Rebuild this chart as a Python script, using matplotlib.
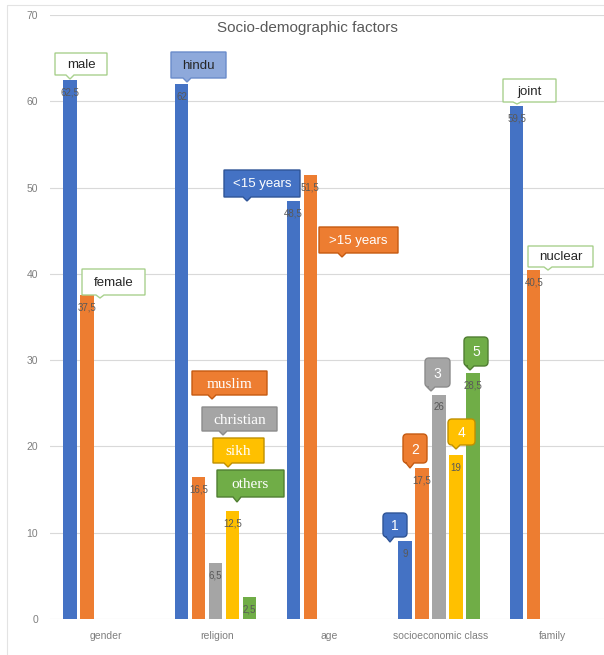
import matplotlib
matplotlib.use('Agg')
import matplotlib.pyplot as plt
import numpy as np
from matplotlib.path import Path
from matplotlib.patches import PathPatch, Rectangle
from matplotlib.transforms import Affine2D

plt.rcParams['font.family'] = ['Liberation Sans', 'DejaVu Sans']

categories = ['gender', 'religion', 'age', 'socioeconomic class', 'family']
s1 = [62.5, 62, 48.5, 9, 59.5]
s2 = [37.5, 16.5, 51.5, 17.5, 40.5]
s3 = [np.nan, 6.5, np.nan, 26, np.nan]
s4 = [np.nan, 12.5, np.nan, 19, np.nan]
s5 = [np.nan, 2.5, np.nan, 28.5, np.nan]
series = [s1, s2, s3, s4, s5]

gender_names = ['male', 'female']
religion_names = ['hindu', 'muslim', 'christian', 'sikh', 'others']
age_names = ['<15 years', '>15 years']
class_names = ['1', '2', '3', '4', '5']
family_names = ['joint', 'nuclear']

colors = ['#4472C4', '#ED7D31', '#A5A5A5', '#FFC000', '#70AD47']
edges = ['#2F5597', '#C55A11', '#8C8C8C', '#BF9000', '#507E32']

fig = plt.figure(figsize=(6.04, 6.55), dpi=100)
ax = fig.add_axes([50 / 604, 36 / 655, 558.5 / 604, 604 / 655])

x = np.arange(len(categories))
for k, (vals, c) in enumerate(zip(series, colors)):
    off = -0.321 + 0.152 * k
    ax.bar(x + off, vals, width=0.12, color=c, zorder=2)
    for xi, v in zip(x + off, vals):
        if np.isnan(v):
            continue
        lab = f'{v:g}'.replace('.', ',')
        ax.text(xi, v - 1.45, lab, ha='center', va='center', fontsize=7,
                color='#595959', zorder=3)

ax.set_xlim(-0.5, 4.5)
ax.set_ylim(0, 70)
ax.set_yticks(range(0, 71, 10))
ax.set_xticks(x, categories)
ax.yaxis.grid(True, color='#d9d9d9', lw=0.8)
ax.set_axisbelow(True)
for sp in ax.spines.values():
    sp.set_visible(False)
ax.tick_params(length=0, labelsize=7.5, labelcolor='#7f7f7f')
ax.tick_params(axis='y', pad=8.5)
ax.tick_params(axis='x', pad=8.5)

# pixel coordinates of the picture (y downwards)
pix = Affine2D().scale(1 / 604, -1 / 655).translate(0, 1) + fig.transFigure

fig.text(307, 28, 'Socio-demographic factors', transform=pix, ha='center',
         va='center', fontsize=11, color='#595959')
fig.add_artist(Rectangle((7, 5), 610, 660, transform=pix, fill=False,
                         edgecolor='#e3e3e3', lw=0.8))


def callout_path(x0, y0, x1, y1, px, tip, r):
    verts = [(x0 + r, y0), (x1 - r, y0), (x1, y0), (x1, y0 + r),
             (x1, y1 - r), (x1, y1), (x1 - r, y1),
             (px + 4, y1), (px, tip), (px - 4, y1),
             (x0 + r, y1), (x0, y1), (x0, y1 - r),
             (x0, y0 + r), (x0, y0), (x0 + r, y0), (x0 + r, y0)]
    codes = [Path.MOVETO, Path.LINETO, Path.CURVE3, Path.CURVE3,
             Path.LINETO, Path.CURVE3, Path.CURVE3,
             Path.LINETO, Path.LINETO, Path.LINETO,
             Path.LINETO, Path.CURVE3, Path.CURVE3,
             Path.LINETO, Path.CURVE3, Path.CURVE3, Path.CLOSEPOLY]
    return Path(verts, codes)


boxes = {
    'male': (55, 53, 107, 75, 70, 79),
    'female': (82, 269, 145, 295, 100, 298),
    'hindu': (171, 52, 226, 78, 187, 82),
    'muslim': (192, 371, 267, 395, 212, 399),
    'christian': (202, 407, 277, 431, 223, 435),
    'sikh': (213, 438, 264, 463, 228, 467),
    'others': (217, 470, 284, 497, 237, 502),
    '<15 years': (224, 170, 300, 197, 247, 201),
    '>15 years': (319, 227, 398, 253, 342, 257),
    '1': (383, 513, 407, 537, 390, 542),
    '2': (403, 434, 427, 463, 410, 468),
    '3': (425, 358, 450, 387, 431, 391),
    '4': (448, 419, 475, 445, 456, 449),
    '5': (464, 337, 488, 366, 470, 370),
    'joint': (503, 79, 556, 102, 517, 104),
    'nuclear': (528, 246, 593, 267, 548, 270),
}

styles = {}
for name in gender_names + family_names:
    styles[name] = ('white', '#A9D18E', '#262626', 'Liberation Sans', 9.5, 0.5)
styles['hindu'] = ('#8EA9DB', '#6A8CCB', '#262626', 'Liberation Sans', 9.5, 0.5)
for k, name in enumerate(religion_names[1:], start=1):
    styles[name] = (colors[k], edges[k], 'white', 'Liberation Serif', 11, 0.5)
for k, name in enumerate(age_names):
    styles[name] = (colors[k], edges[k], 'white', 'Liberation Sans', 9.5, 0.5)
for k, name in enumerate(class_names):
    styles[name] = (colors[k], edges[k], 'white', 'Liberation Sans', 10, 4)

for name, (x0, y0, x1, y1, px, tip) in boxes.items():
    fc, ec, tc, fam, fs, r = styles[name]
    fig.add_artist(PathPatch(callout_path(x0, y0, x1, y1, px, tip, r),
                             transform=pix, facecolor=fc, edgecolor=ec, lw=1))
    fig.text((x0 + x1) / 2, (y0 + y1) / 2 + 1, name, transform=pix,
             ha='center', va='center', fontsize=fs, color=tc, family=fam)

fig.savefig('out.png', dpi=100)
